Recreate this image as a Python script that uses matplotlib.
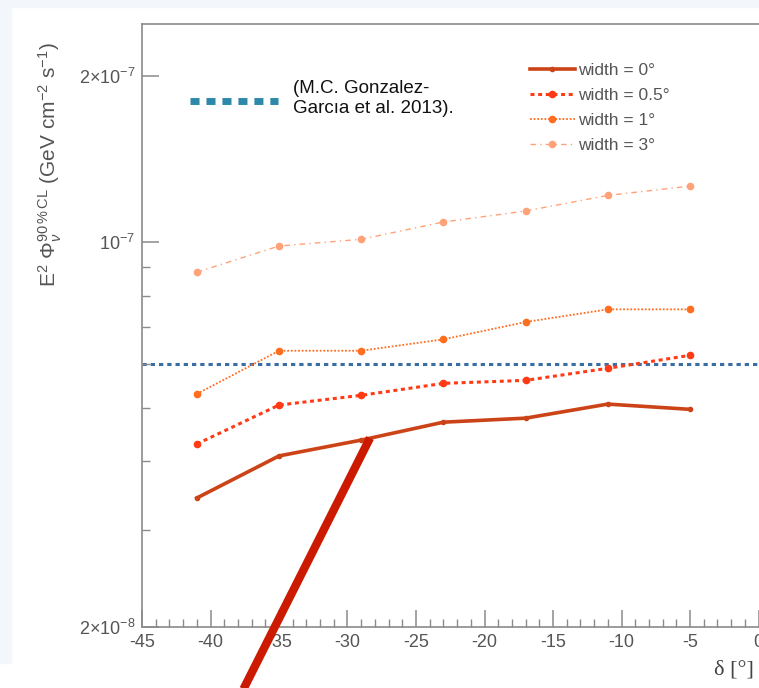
import numpy as np
import matplotlib
matplotlib.use("Agg")
import matplotlib.pyplot as plt
from matplotlib.lines import Line2D
from matplotlib.patches import Rectangle

plt.rcParams['font.family'] = ['Liberation Sans', 'DejaVu Sans']
plt.rcParams['mathtext.fontset'] = 'custom'
plt.rcParams['mathtext.rm'] = 'Liberation Sans'
plt.rcParams['mathtext.it'] = 'Liberation Sans:italic'
plt.rcParams['mathtext.bf'] = 'Liberation Sans:bold'

# declination of the sources [deg]
dec = [-41, -35, -29, -23, -17, -11, -5]

# 90% CL sensitivity, E^2 Phi [GeV cm^-2 s^-1]
w0 = [3.43e-8, 4.09e-8, 4.37e-8, 4.71e-8, 4.79e-8, 5.08e-8, 4.97e-8]
w05 = [4.30e-8, 5.06e-8, 5.27e-8, 5.54e-8, 5.61e-8, 5.90e-8, 6.23e-8]
w1 = [5.30e-8, 6.35e-8, 6.35e-8, 6.66e-8, 7.16e-8, 7.55e-8, 7.55e-8]
w3 = [8.82e-8, 9.84e-8, 1.012e-7, 1.088e-7, 1.139e-7, 1.216e-7, 1.264e-7]
labels = ['width = 0°', 'width = 0.5°', 'width = 1°', 'width = 3°']

gonzalez = 6.0e-8   # reference flux (M.C. Gonzalez-Garcia et al. 2013)

ytick_vals = [2e-8, 1e-7, 2e-7]
ytick_labels = [r'2$\times$10$^{-8}$', r'10$^{-7}$', r'2$\times$10$^{-7}$']
yminor_vals = [3e-8, 4e-8, 5e-8, 6e-8, 7e-8, 8e-8, 9e-8]

W, H = 759, 688
fig = plt.figure(figsize=(W / 100, H / 100), dpi=100)
fig.patch.set_facecolor('white')

# slide background strips
fig.add_artist(Rectangle((0, 1 - 663 / H), 11 / W, 663 / H, transform=fig.transFigure,
                         color='#f3f7fb', zorder=0))
fig.add_artist(Rectangle((0, 1 - 7 / H), 1, 7 / H, transform=fig.transFigure,
                         color='#f3f7fb', zorder=0))

ax = fig.add_axes([142 / W, (H - 627) / H, (827 - 142) / W, (627 - 24) / H])
ax.set_yscale('log')
ax.set_xlim(-45, 5)
ax.set_ylim(2e-8, 2.49e-7)

gray = '#555555'
ax.axhline(gonzalez, color='#3c6ea6', lw=2.2, ls=(0, (1.4, 1.3)), zorder=1)

ax.plot(dec, w0, color='#cc4318', lw=2.6, ls='-', marker='o', ms=3, label=labels[0], zorder=3)
ax.plot(dec, w05, color='#ff3a14', lw=2.2, ls=(0, (1.3, 1.2)), marker='o', ms=4.5, label=labels[1], zorder=3)
ax.plot(dec, w1, color='#ff6d1f', lw=1.3, ls=(0, (1, 1)), marker='o', ms=4.5, label=labels[2], zorder=3)
ax.plot(dec, w3, color='#ffa27a', lw=1.0, ls=(0, (4, 3, 1, 3)), marker='o', ms=4.5, label=labels[3], zorder=3)

for s in ax.spines.values():
    s.set_color('#8a8a8a')
    s.set_linewidth(1.2)

ax.set_xticks(np.arange(-45, 6, 5))
ax.set_xticks(np.arange(-45, 6, 1), minor=True)
ax.set_xticklabels([str(v) for v in range(-45, 6, 5)])
ax.set_yticks(ytick_vals)
ax.set_yticklabels(ytick_labels)
ax.set_yticks(yminor_vals, minor=True)
ax.yaxis.set_minor_formatter(matplotlib.ticker.NullFormatter())

ax.tick_params(which='major', direction='in', length=12, width=1.1, color='#8a8a8a',
               labelcolor=gray, labelsize=13, pad=3)
ax.tick_params(which='minor', direction='in', length=6, width=1.0, color='#8a8a8a')
ax.tick_params(axis='x', which='both', top=False, pad=5)
ax.tick_params(axis='y', which='both', right=False, pad=5)

leg = ax.legend(loc='upper left', bbox_to_anchor=(521 / W, 1 - 54 / H),
                bbox_transform=fig.transFigure, frameon=False, fontsize=12.5,
                handlelength=2.6, handletextpad=0.2, labelspacing=0.58, borderpad=0)
for t in leg.get_texts():
    t.set_color(gray)

# reference line marker and text
fig.add_artist(Line2D([190 / W, 278 / W], [1 - 101 / H] * 2, transform=fig.transFigure,
                      color='#2e88aa', lw=5, ls=(0, (1.3, 1.0)), solid_capstyle='butt'))
fig.text(293 / W, 1 - 80 / H, '(M.C. Gonzalez-\nGarcıa et al. 2013).', ha='left', va='top',
         fontsize=13.5, color='#111111', linespacing=1.2)

fig.text(50 / W, 1 - 165 / H,
         r'E$^{2}$ $\Phi_{\nu}^{90\,\%\,\mathrm{CL}}$ (GeV cm$^{-2}$ s$^{-1}$)',
         rotation=90, ha='center', va='center', fontsize=15, color=gray)
fig.text(714 / W, 1 - 670 / H, 'δ [°]', ha='left', va='center', fontsize=16,
         family=['Liberation Serif', 'DejaVu Serif'], color='#444444')

# red annotation stroke
fig.add_artist(Line2D([370 / W, 243 / W], [1 - 438 / H, 1 - 690 / H], transform=fig.transFigure,
                      color='#cc1a00', lw=6, solid_capstyle='butt', zorder=10))

fig.savefig('out.png', dpi=100)
